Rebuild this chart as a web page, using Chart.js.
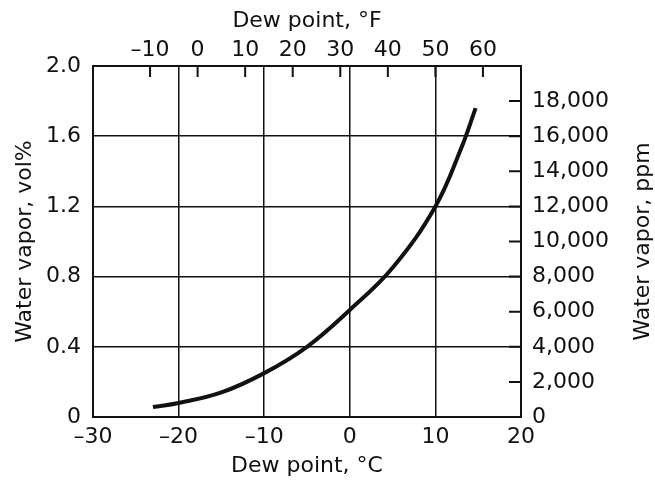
<!DOCTYPE html>
<html>
<head>
<meta charset="utf-8">
<script src="https://cdn.jsdelivr.net/npm/chart.js@4/dist/chart.umd.min.js"></script>
<style>
  html, body { margin: 0; padding: 0; background: #fff; }
  #wrap { width: 655px; height: 482px; }
</style>
</head>
<body>
<div id="wrap"><canvas id="dewChart" width="655" height="482"></canvas></div>
<script>
// Saturation curve
const dewPointC = [-23, -20, -15, -10, -5, 0, 5, 10, 13, 14.7];
const vaporVol = [0.057, 0.08, 0.14, 0.25, 0.40, 0.61, 0.85, 1.2, 1.53, 1.76];

// Axis ticks
const celsiusTicks = [-30, -20, -10, 0, 10, 20];
const fahrenheitTicks = [-10, 0, 10, 20, 30, 40, 50, 60];
const volTicks = [0, 0.4, 0.8, 1.2, 1.6, 2.0];
const ppmTicks = [0, 2000, 4000, 6000, 8000, 10000, 12000, 14000, 16000, 18000, 20000];

const INK = '#111';
const FONT = { family: '"DejaVu Sans", sans-serif', size: 22 };

const fmtMinus = v => (v < 0 ? '\u2013' + Math.abs(v) : String(v));

// Inward tick marks for the top (°F) and right (ppm) axes, plus right title
const extraMarks = {
    id: 'extraMarks',
    afterDraw(chart) {
        const ctx = chart.ctx;
        const area = chart.chartArea;
        const x2 = chart.scales.x2;
        const y2 = chart.scales.y2;
        ctx.save();
        ctx.strokeStyle = INK;
        ctx.lineWidth = 2;
        ctx.beginPath();
        fahrenheitTicks.forEach(f => {
            const px = x2.getPixelForValue(f);
            ctx.moveTo(px, area.top);
            ctx.lineTo(px, area.top + 11);
        });
        ppmTicks.forEach(p => {
            const py = y2.getPixelForValue(p);
            ctx.moveTo(area.right, py);
            ctx.lineTo(area.right - 12, py);
        });
        ctx.stroke();

        ctx.fillStyle = INK;
        ctx.font = FONT.size + 'px ' + FONT.family;
        ctx.textAlign = 'center';
        ctx.textBaseline = 'middle';
        ctx.translate(643, (area.top + area.bottom) / 2);
        ctx.rotate(-Math.PI / 2);
        ctx.fillText('Water vapor, ppm', 0, 0);
        ctx.restore();
    }
};

new Chart(document.getElementById('dewChart'), {
    type: 'line',
    data: {
        datasets: [{
            data: dewPointC.map((c, i) => ({ x: c, y: vaporVol[i] })),
            borderColor: INK,
            borderWidth: 4,
            pointRadius: 0,
            tension: 0.4,
            fill: false,
            xAxisID: 'x',
            yAxisID: 'y'
        }]
    },
    options: {
        responsive: false,
        animation: false,
        layout: { padding: 0 },
        plugins: {
            legend: { display: false },
            tooltip: { enabled: false }
        },
        scales: {
            x: {
                type: 'linear',
                position: 'bottom',
                min: -30,
                max: 20,
                afterBuildTicks: s => { s.ticks = celsiusTicks.map(v => ({ value: v })); },
                afterFit: s => { s.height = 65; },
                grid: { color: INK, lineWidth: 1.5, drawTicks: false },
                border: { display: true, color: INK, width: 2 },
                ticks: { color: INK, font: FONT, padding: 7, maxRotation: 0, callback: fmtMinus },
                title: { display: true, text: 'Dew point, °C', color: INK, font: FONT, padding: { top: 0, bottom: 3 } }
            },
            x2: {
                type: 'linear',
                position: 'top',
                min: -22,
                max: 68,
                afterBuildTicks: s => { s.ticks = fahrenheitTicks.map(v => ({ value: v })); },
                afterFit: s => { s.height = 66; },
                grid: { display: false, drawTicks: false },
                border: { display: true, color: INK, width: 2 },
                ticks: { color: INK, font: FONT, padding: 3, maxRotation: 0, callback: fmtMinus },
                title: { display: true, text: 'Dew point, °F', color: INK, font: FONT, padding: { top: 8, bottom: 0 } }
            },
            y: {
                type: 'linear',
                position: 'left',
                min: 0,
                max: 2,
                afterBuildTicks: s => { s.ticks = volTicks.map(v => ({ value: v })); },
                afterFit: s => { s.width = 93; },
                grid: { color: INK, lineWidth: 1.5, drawTicks: false },
                border: { display: true, color: INK, width: 2 },
                ticks: { color: INK, font: FONT, padding: 12, callback: v => (v === 0 ? '0' : v.toFixed(1)) },
                title: { display: true, text: 'Water vapor, vol%', color: INK, font: FONT, padding: { top: 12, bottom: 0 } }
            },
            y2: {
                type: 'linear',
                position: 'right',
                min: 0,
                max: 20000,
                afterBuildTicks: s => { s.ticks = ppmTicks.map(v => ({ value: v })); },
                afterFit: s => { s.width = 134; },
                grid: { display: false, drawTicks: false },
                border: { display: true, color: INK, width: 2 },
                ticks: { color: INK, font: FONT, padding: 11, callback: v => (v === 20000 ? '' : v.toLocaleString('en-US')) },
                title: { display: false }
            }
        }
    },
    plugins: [extraMarks]
});
</script>
</body>
</html>
